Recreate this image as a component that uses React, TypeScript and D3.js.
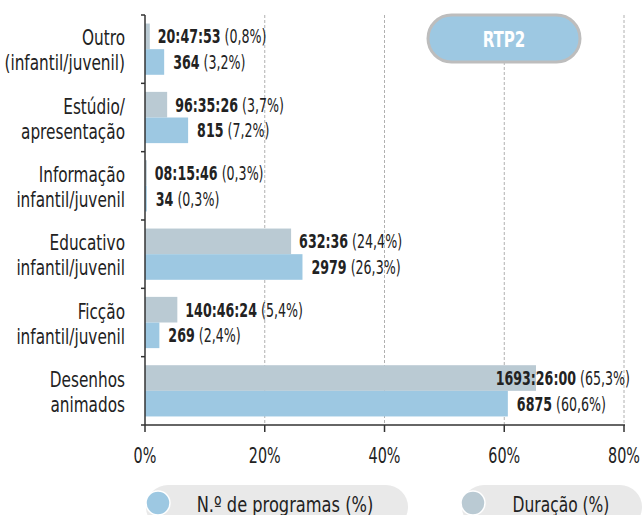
import React from "react";
import * as d3 from "d3";

const categories: string[][] = [
  ["Outro", "(infantil/juvenil)"],
  ["Estúdio/", "apresentação"],
  ["Informação", "infantil/juvenil"],
  ["Educativo", "infantil/juvenil"],
  ["Ficção", "infantil/juvenil"],
  ["Desenhos", "animados"],
];
const durationPct = [0.8, 3.7, 0.3, 24.4, 5.4, 65.3];
const durationLabel = ["20:47:53", "96:35:26", "08:15:46", "632:36", "140:46:24", "1693:26:00"];
const programCount = [364, 815, 34, 2979, 269, 6875];
const programPct = [3.2, 7.2, 0.3, 26.3, 2.4, 60.6];
const xTicks = [0, 20, 40, 60, 80];
const seriesNames = ["Duração (%)", "N.º de programas (%)"];
const badge = "RTP2";

const W = 642;
const H = 515;
const FONT = "'DejaVu Sans Condensed', 'DejaVu Sans', sans-serif";
const GRAY = "#bacad3";
const BLUE = "#9dc8e2";
const TEXT = "#222";

const fmt = (v: number) => v.toFixed(1).replace(".", ",") + "%";

type CTextProps = {
  x: number;
  y: number;
  sx: number;
  size: number;
  anchor?: "start" | "middle" | "end";
  weight?: string;
  fill?: string;
  dy?: string;
  children: React.ReactNode;
};
function CText({ x, y, sx, size, anchor = "start", weight, fill = TEXT, dy, children }: CTextProps) {
  return (
    <text transform={`translate(${x},${y}) scale(${sx},1)`} textAnchor={anchor} fontSize={size}
      fontWeight={weight} fill={fill} dy={dy}>
      {children}
    </text>
  );
}

export default function App() {
  const x = d3.scaleLinear().domain([0, 80]).range([145, 624]);
  const idx = categories.map((_, i) => String(i));
  const y = d3.scaleBand().domain(idx).range([15, 425]).paddingInner(0.25).paddingOuter(0.125);
  const sub = d3.scaleBand().domain(["dur", "num"]).range([0, y.bandwidth()]).padding(0);
  const step = y.step();
  const bounds = d3.range(categories.length + 1).map((i) => 15 + i * step);
  const rightLimit = 630;
  const VS = 0.72; // value label horizontal compression
  const VSIZE = 19.5;
  const estW = (bold: string, norm: string) => (bold.length * 0.62 + 0.3 + norm.length * 0.56) * VSIZE * VS;

  return (
    <svg width={W} height={H} style={{ position: "absolute", left: 0, top: 0 }} fontFamily={FONT}>
      <rect width={W} height={H} fill="#fff" />
      {/* gridlines */}
      {xTicks.filter((t) => t > 0).map((t) => (
        <line key={t} x1={x(t)} x2={x(t)} y1={t === 60 ? 62 : 15} y2={425}
          stroke="#b0b0b0" strokeWidth={1} strokeDasharray="3,2" />
      ))}
      {/* badge */}
      <rect x={428} y={15} width={152} height={47} rx={23.5} fill={BLUE} stroke="#bdbdbd" strokeWidth={3} />
      <CText x={504} y={47} sx={0.8} size={21} anchor="middle" weight="bold" fill="#fff">{badge}</CText>
      {/* bars */}
      {categories.map((_, i) => {
        const y0 = y(String(i))!;
        const yd = y0 + sub("dur")!;
        const yn = y0 + sub("num")!;
        const bh = sub.bandwidth();
        const dEnd = x(durationPct[i]);
        const nEnd = x(programPct[i]);
        const dStr = `(${fmt(durationPct[i])})`;
        const nStr = `(${fmt(programPct[i])})`;
        let dX = dEnd + 8;
        let dAnchor: "start" | "end" = "start";
        if (dX + estW(durationLabel[i], dStr) > rightLimit) { dX = rightLimit; dAnchor = "end"; }
        return (
          <g key={i}>
            <rect x={x(0)} y={yd} width={dEnd - x(0)} height={bh} fill={GRAY} />
            <rect x={x(0)} y={yn} width={nEnd - x(0)} height={bh} fill={BLUE} />
            <CText x={dX} y={yd + bh / 2} dy="0.36em" sx={VS} size={VSIZE} anchor={dAnchor}>
              <tspan fontWeight="bold">{durationLabel[i]}</tspan>
              <tspan> {dStr}</tspan>
            </CText>
            <CText x={nEnd + 9} y={yn + bh / 2} dy="0.36em" sx={VS} size={VSIZE}>
              <tspan fontWeight="bold">{programCount[i]}</tspan>
              <tspan> {nStr}</tspan>
            </CText>
          </g>
        );
      })}
      {/* category labels */}
      {categories.map((lines, i) => {
        const c = y(String(i))! + y.bandwidth() / 2;
        return (
          <g key={i}>
            <CText x={125} y={c - 4} sx={0.81} size={21} anchor="end">{lines[0]}</CText>
            <CText x={125} y={c + 21} sx={0.81} size={21} anchor="end">{lines[1]}</CText>
          </g>
        );
      })}
      {/* y axis */}
      <line x1={145} x2={145} y1={15} y2={425} stroke="#333" strokeWidth={1.5} />
      {bounds.map((b, i) => (
        <line key={i} x1={141} x2={145} y1={b} y2={b} stroke="#333" strokeWidth={1.5} />
      ))}
      {/* x axis */}
      <line x1={145} x2={625} y1={425} y2={425} stroke="#333" strokeWidth={1.5} />
      {xTicks.map((t) => (
        <g key={t}>
          <line x1={x(t)} x2={x(t)} y1={425} y2={432} stroke="#333" strokeWidth={1.5} />
          <CText x={x(t)} y={463} sx={0.76} size={21} anchor="middle">{t}%</CText>
        </g>
      ))}
      {/* legend */}
      <rect x={146} y={485} width={262} height={44} rx={22} fill="#e9e9e9" />
      <circle cx={158} cy={503} r={12} fill={BLUE} stroke="#fff" strokeWidth={1.5} />
      <CText x={285} y={512} sx={0.86} size={21} anchor="middle">{seriesNames[1]}</CText>
      <rect x={462} y={485} width={180} height={44} rx={22} fill="#e9e9e9" />
      <circle cx={473} cy={503} r={12} fill={GRAY} stroke="#fff" strokeWidth={1.5} />
      <CText x={561} y={512} sx={0.82} size={21} anchor="middle">{seriesNames[0]}</CText>
    </svg>
  );
}
